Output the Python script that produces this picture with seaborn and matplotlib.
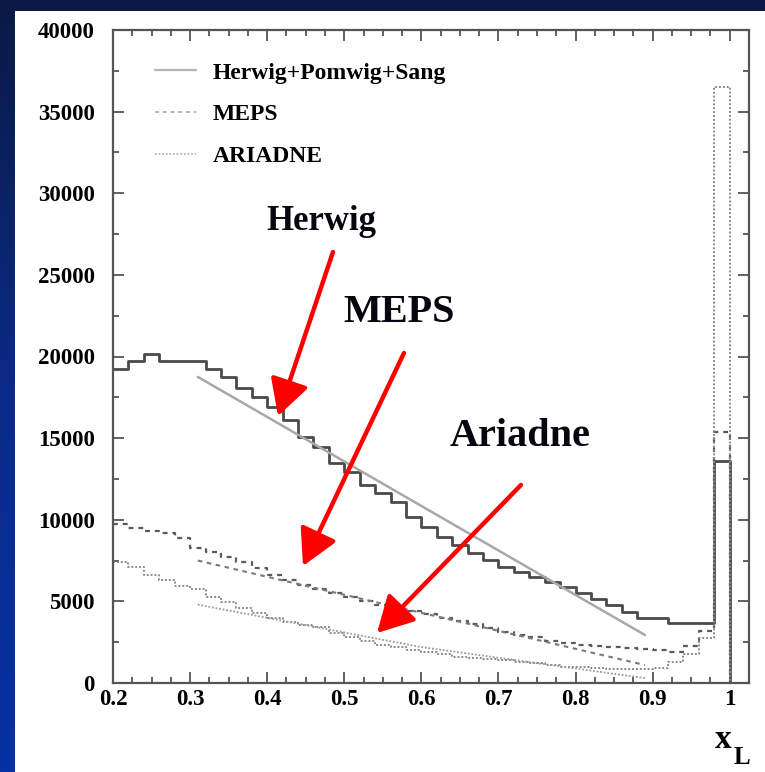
import numpy as np
import pandas as pd
import matplotlib
matplotlib.use("Agg")
import matplotlib.pyplot as plt
from matplotlib.lines import Line2D
from matplotlib.patches import Rectangle
from matplotlib.ticker import MultipleLocator
from matplotlib.colors import LinearSegmentedColormap
import seaborn as sns

# ---------------- data ----------------
bin_edges = np.linspace(0.20, 1.00, 41)

herwig = [19240, 19730, 20140, 19730, 19730, 19730, 19240, 18770, 18050, 17540,
          16930, 16110, 15090, 14480, 13460, 12950, 12130, 11620, 11110, 10190,
          9580, 8960, 8450, 7940, 7540, 7130, 6820, 6510, 6210, 5860,
          5500, 5130, 4780, 4370, 4000, 3960, 3650, 3650, 3650, 13600]

meps = [9750, 9500, 9330, 9170, 8870, 8250, 8050, 7740, 7430, 7030,
        6620, 6310, 6000, 5750, 5500, 5250, 5000, 4800, 4600, 4400,
        4200, 4000, 3800, 3600, 3350, 3150, 2950, 2800, 2600, 2450,
        2350, 2250, 2200, 2150, 2100, 2000, 1900, 2250, 3200, 15400]

ariadne = [7430, 7120, 6620, 6310, 5940, 5740, 5290, 4980, 4570, 4270,
           3960, 3760, 3550, 3400, 3050, 2800, 2550, 2330, 2200, 2020,
           1900, 1800, 1620, 1520, 1450, 1380, 1300, 1200, 1100, 1000,
           950, 900, 880, 880, 880, 900, 1300, 1800, 2750, 36500]

herwig_fit_x = [0.31, 0.89]
herwig_fit_y = [18750, 2940]
meps_fit_x = [0.31, 0.60, 0.89]
meps_fit_y = [7500, 4300, 1100]
ariadne_fit_x = [0.31, 0.60, 0.89]
ariadne_fit_y = [4800, 2200, 300]

legend_labels = ["Herwig+Pomwig+Sang", "MEPS", "ARIADNE"]
x_ticks = [0.2, 0.3, 0.4, 0.5, 0.6, 0.7, 0.8, 0.9, 1.0]
x_ticklabels = ["0.2", "0.3", "0.4", "0.5", "0.6", "0.7", "0.8", "0.9", "1"]
y_ticks = [0, 5000, 10000, 15000, 20000, 25000, 30000, 35000, 40000]

# ---------------- style ----------------
sns.set_theme(style="white")
SERIF = ["Liberation Serif", "DejaVu Serif"]
plt.rcParams["font.family"] = SERIF
plt.rcParams["font.weight"] = "bold"

W, H = 765, 772
fig = plt.figure(figsize=(W / 100, H / 100), dpi=100)

# background gradient + white panel
bg = fig.add_axes([0, 0, 1, 1], zorder=-10)
grad = np.linspace(0, 1, 256).reshape(-1, 1)
cmap = LinearSegmentedColormap.from_list("bgblue", ["#0b1a44", "#0a2a86", "#0632a2"])
bg.imshow(grad, aspect="auto", cmap=cmap, extent=[0, 1, 1, 0])
bg.add_patch(Rectangle((15 / W, 0), 1, 1 - 11 / H, transform=bg.transAxes,
                       facecolor="white", edgecolor="none"))
bg.set_xlim(0, 1)
bg.set_ylim(1, 0)
bg.axis("off")

ax = fig.add_axes([113 / W, 1 - 683 / H, (749 - 113) / W, (683 - 30) / H])
ax.set_facecolor("white")

def step_df(values):
    return pd.DataFrame({"x": bin_edges, "y": list(values) + [0]})

dh = step_df(herwig)
dm = step_df(meps)
da = step_df(ariadne)

# histograms
sns.lineplot(data=dh, x="x", y="y", estimator=None, sort=False, drawstyle="steps-post",
             color="#4a4a4a", linewidth=2.0, ax=ax)
sns.lineplot(data=dm, x="x", y="y", estimator=None, sort=False, drawstyle="steps-post",
             color="#5a5a5a", linewidth=1.6, linestyle=(0, (2.2, 2.2)), ax=ax)
sns.lineplot(data=da, x="x", y="y", estimator=None, sort=False, drawstyle="steps-post",
             color="#8a8a8a", linewidth=1.4, linestyle=(0, (1, 1)), ax=ax)

# fit lines
sns.lineplot(x=herwig_fit_x, y=herwig_fit_y, estimator=None, sort=False,
             color="#a8a8a8", linewidth=1.8, ax=ax)
sns.lineplot(x=meps_fit_x, y=meps_fit_y, estimator=None, sort=False,
             color="#7a7a7a", linewidth=1.5, linestyle=(0, (2.2, 2.2)), ax=ax)
sns.lineplot(x=ariadne_fit_x, y=ariadne_fit_y, estimator=None, sort=False,
             color="#9a9a9a", linewidth=1.3, linestyle=(0, (1, 1)), ax=ax)

# axes
ax.set_xlim(0.2, 1.025)
ax.set_ylim(0, 40000)
ax.set_xticks(x_ticks)
ax.set_xticklabels(x_ticklabels)
ax.set_yticks(y_ticks)
ax.set_yticklabels([str(v) for v in y_ticks])
ax.xaxis.set_minor_locator(MultipleLocator(0.025))
ax.yaxis.set_minor_locator(MultipleLocator(2500))
ax.tick_params(which="both", direction="in", top=True, right=True, bottom=True, left=True,
               color="#555555", width=1.3)
ax.tick_params(which="major", length=8)
ax.tick_params(which="minor", length=4.5)
ax.tick_params(axis="y", which="major", pad=13, labelsize=16.5)
ax.tick_params(axis="x", which="major", pad=4, labelsize=16.5)
for lab in ax.get_xticklabels() + ax.get_yticklabels():
    lab.set_fontweight("bold")
    lab.set_color("black")
for sp in ax.spines.values():
    sp.set_color("#555555")
    sp.set_linewidth(1.6)
ax.set_xlabel("")
ax.set_ylabel("")

# legend
handles = [Line2D([], [], color="#b5b5b5", lw=1.6),
           Line2D([], [], color="#b5b5b5", lw=1.4, linestyle=(0, (2, 2))),
           Line2D([], [], color="#b5b5b5", lw=1.3, linestyle=(0, (1, 1)))]
leg = ax.legend(handles, legend_labels, loc="upper left",
                bbox_to_anchor=((155 - 113) / 636, (683 - 62) / 653),
                frameon=False, borderpad=0, borderaxespad=0,
                handlelength=1.75, handletextpad=0.7, labelspacing=0.86,
                labelcolor="black",
                prop={"family": SERIF, "weight": "bold", "size": 17})

# annotations
def px2data(px, py):
    return 0.2 + (px - 113) / 771.0, (683 - py) * 40000 / 653.0

arrow_kw = dict(arrowstyle="-|>,head_length=1.1,head_width=0.6", color="red",
                lw=3.2, mutation_scale=20, shrinkA=0, shrinkB=0)
for label, tpos, start, tip, fs in [
        ("Herwig", (321, 222), (333, 252), (278, 416), 25),
        ("MEPS", (399, 313), (404, 353), (303, 566), 29),
        ("Ariadne", (520, 437), (521, 485), (377, 633), 29)]:
    ax.text(*px2data(*tpos), label, ha="center", va="center", fontsize=fs,
            fontweight="bold", color="#05060f", family=SERIF)
    ax.annotate("", xy=px2data(*tip), xytext=px2data(*start), arrowprops=arrow_kw)

# x axis label "x_L"
fig.text(723 / W, 1 - 740 / H, "x", ha="center", va="center", fontsize=24,
         fontweight="bold", family=SERIF, color="black")
fig.text(742 / W, 1 - 757 / H, "L", ha="center", va="center", fontsize=18,
         fontweight="bold", family=SERIF, color="black")

fig.savefig("out.png", dpi=100, facecolor=fig.get_facecolor())
